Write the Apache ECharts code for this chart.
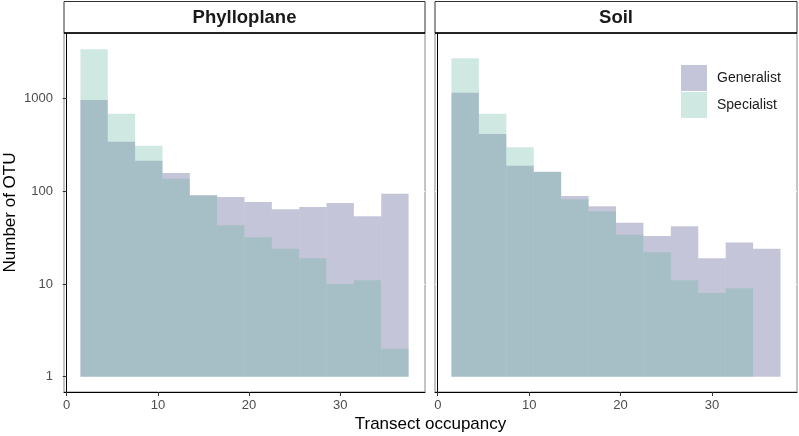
<!DOCTYPE html>
<html>
<head>
<meta charset="utf-8">
<script src="https://cdn.jsdelivr.net/npm/echarts@6/dist/echarts.min.js"></script>
<style>html,body{margin:0;padding:0;background:#fff;}#chart{width:799px;height:436px;}</style>
</head>
<body>
<div id="chart"></div>
<script>
// Occupancy bins (lower / upper edges)
const binLow  = [1.5, 4.5, 7.5, 10.5, 13.5, 16.5, 19.5, 22.5, 25.5, 28.5, 31.5, 34.5];
const binHigh = [4.5, 7.5, 10.5, 13.5, 16.5, 19.5, 22.5, 25.5, 28.5, 31.5, 34.5, 37.5];
const facets = ['Phylloplane', 'Soil'];
const seriesNames = ['Generalist', 'Specialist'];
// Number of OTU per bin
const phylloGeneralist = [968, 344, 214, 158, 91, 87, 77, 64, 68, 75, 54, 94];
const phylloSpecialist = [3410, 689, 311, 137, 90, 43, 32, 24, 19, 10, 11, 2];
const soilGeneralist   = [1161, 416, 189, 163, 89, 69, 46, 33, 42, 19, 28, 24];
const soilSpecialist   = [2729, 689, 299, 162, 82, 61, 34, 22, 11, 8, 9, 0];
const xTicks = [0, 10, 20, 30];
const yTicks = [1, 10, 100, 1000];

const FONT = "'Liberation Sans', Arial, Helvetica, sans-serif";
const colors = {Generalist: 'rgba(62,62,128,0.3)', Specialist: 'rgba(95,178,155,0.3)'};

function toData(vals) {
  return binLow.map((lo, i) => [lo, binHigh[i], vals[i]]);
}
function renderItem(params, api) {
  const x0 = api.value(0), x1 = api.value(1), v = api.value(2);
  if (!(v > 0)) return null;
  const p0 = api.coord([x0, v]);
  const p1 = api.coord([x1, 1]);
  return {
    type: 'rect',
    shape: {x: p0[0], y: p0[1], width: p1[0] - p0[0], height: p1[1] - p0[1]},
    style: {fill: api.visual('color')}
  };
}
function makeSeries(name, vals, idx) {
  return {
    type: 'custom', name: name, xAxisIndex: idx, yAxisIndex: idx,
    renderItem: renderItem,
    itemStyle: {color: colors[name]},
    encode: {x: [0, 1], y: 2},
    data: toData(vals)
  };
}

const grids = [
  {left: 64, right: 374, top: 33, bottom: 44, show: true, borderColor: '#8a8a8a', borderWidth: 1, backgroundColor: 'transparent'},
  {left: 435, right: 2, top: 33, bottom: 44, show: true, borderColor: '#8a8a8a', borderWidth: 1, backgroundColor: 'transparent'}
];

function xAxis(idx) {
  return {
    type: 'value', gridIndex: idx, min: -0.3, max: 39.3,
    axisLine: {show: true, lineStyle: {color: '#000', width: 1}},
    axisTick: {show: true, length: 4, lineStyle: {color: '#333'}, customValues: xTicks},
    axisLabel: {show: true, customValues: xTicks, color: '#4d4d4d', fontSize: 13, fontFamily: FONT, margin: 7,
                formatter: v => String(v)},
    splitLine: {show: true, showMinLine: false, showMaxLine: false, lineStyle: {color: '#ffffff', width: 1}}
  };
}
function yAxis(idx) {
  return {
    type: 'log', logBase: 10, gridIndex: idx, min: 0.684, max: 5117,
    axisLine: {show: true, lineStyle: {color: '#000', width: 1}},
    axisTick: {show: idx === 0, length: 4, lineStyle: {color: '#333'}, customValues: yTicks},
    axisLabel: {show: idx === 0, customValues: yTicks, color: '#4d4d4d', fontSize: 13, fontFamily: FONT, margin: 11,
                formatter: v => String(Math.round(v))},
    splitLine: {show: true, showMinLine: false, showMaxLine: false, lineStyle: {color: '#ffffff', width: 1}}
  };
}

const stripTop = 1.5, stripBottom = 33;
const graphics = [];
grids.forEach((g, i) => {
  const left = g.left;
  const right = i === 0 ? 799 - 374 : 799 - 2;
  graphics.push({
    type: 'rect', shape: {x: left, y: stripTop, width: right - left, height: stripBottom - stripTop},
    style: {fill: '#fff', stroke: '#333', lineWidth: 1}, z: 10
  });
  graphics.push({
    type: 'line', shape: {x1: left, y1: stripBottom, x2: right, y2: stripBottom},
    style: {stroke: '#000', lineWidth: 1.6}, z: 11
  });
  graphics.push({
    type: 'text', x: (left + right) / 2, y: (stripTop + stripBottom) / 2 + 0.5, z: 12,
    style: {text: facets[i], textAlign: 'center', textVerticalAlign: 'middle',
            font: "bold 18.5px " + FONT, fill: '#1a1a1a'}
  });
});
graphics.push({
  type: 'text', x: 430.5, y: 424, z: 12,
  style: {text: 'Transect occupancy', textAlign: 'center', textVerticalAlign: 'middle',
          font: "17px " + FONT, fill: '#000'}
});
graphics.push({
  type: 'text', x: 10, y: 212.5, rotation: Math.PI / 2, z: 12,
  style: {text: 'Number of OTU', textAlign: 'center', textVerticalAlign: 'middle',
          font: "17px " + FONT, fill: '#000'}
});

const option = {
  animation: false,
  backgroundColor: '#fff',
  grid: grids,
  xAxis: [xAxis(0), xAxis(1)],
  yAxis: [yAxis(0), yAxis(1)],
  legend: {
    data: seriesNames.map(n => ({name: n, icon: 'rect'})),
    orient: 'vertical', left: 676, top: 60,
    itemWidth: 26, itemHeight: 26, itemGap: 1,
    textStyle: {fontSize: 14, fontFamily: FONT, color: '#1a1a1a', padding: [0, 0, 0, 5]}
  },
  series: [
    makeSeries('Generalist', phylloGeneralist, 0),
    makeSeries('Specialist', phylloSpecialist, 0),
    makeSeries('Generalist', soilGeneralist, 1),
    makeSeries('Specialist', soilSpecialist, 1)
  ],
  graphic: graphics
};

const chart = echarts.init(document.getElementById('chart'), null, {renderer: 'canvas'});
chart.setOption(option);
</script>
</body>
</html>
